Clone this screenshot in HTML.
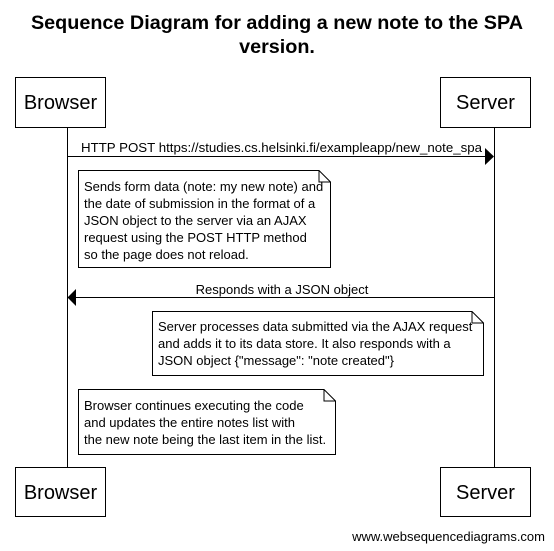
<!DOCTYPE html>
<html><head><meta charset="utf-8"><style>
html,body{margin:0;padding:0;background:#fff;}
svg{display:block;font-family:"Liberation Sans",Arial,sans-serif;}
</style></head><body>
<svg width="554" height="551" viewBox="0 0 554 551" xmlns="http://www.w3.org/2000/svg">
<rect width="554" height="551" fill="#fff"/>
<g font-weight="bold" font-size="19.8" text-anchor="middle" fill="#000">
<text x="277" y="29">Sequence Diagram for adding a new note to the SPA</text>
<text x="277" y="53">version.</text>
</g>
<g stroke="#000" stroke-width="1" fill="none">
<line x1="67.5" y1="127" x2="67.5" y2="467"/>
<line x1="494.5" y1="127" x2="494.5" y2="467"/>
<rect x="15.5" y="77.5" width="90" height="50" fill="#fff"/>
<rect x="440.5" y="77.5" width="90" height="50" fill="#fff"/>
<rect x="15.5" y="467.5" width="90" height="49" fill="#fff"/>
<rect x="440.5" y="467.5" width="90" height="49" fill="#fff"/>
<line x1="67.5" y1="156.5" x2="486" y2="156.5"/>
<line x1="75" y1="297.5" x2="494.5" y2="297.5"/>
<path d="M78.5 170.5 H319 L330.5 182 V267.5 H78.5 Z" fill="#fff"/>
<path d="M319 170.5 V182 H330.5"/>
<path d="M152.5 311.5 H472 L483.5 323 V375.5 H152.5 Z" fill="#fff"/>
<path d="M472 311.5 V323 H483.5"/>
<path d="M78.5 389.5 H324 L335.5 401 V454.5 H78.5 Z" fill="#fff"/>
<path d="M324 389.5 V401 H335.5"/>
</g>
<polygon points="485,148 494,156.5 485,165" fill="#000"/>
<polygon points="76,289 67.5,297.5 76,306" fill="#000"/>
<g font-size="20" text-anchor="middle" fill="#000">
<text x="60.5" y="109">Browser</text>
<text x="485.5" y="109">Server</text>
<text x="60.5" y="499">Browser</text>
<text x="485.5" y="499">Server</text>
</g>
<g font-size="13" fill="#000">
<text x="81" y="152" textLength="401" lengthAdjust="spacingAndGlyphs">HTTP POST https://studies.cs.helsinki.fi/exampleapp/new_note_spa</text>
<text x="282" y="294" text-anchor="middle">Responds with a JSON object</text>
<text x="84" y="191">Sends form data (note: my new note) and</text>
<text x="84" y="208">the date of submission in the format of a</text>
<text x="84" y="225">JSON object to the server via an AJAX</text>
<text x="84" y="242">request using the POST HTTP method</text>
<text x="84" y="259">so the page does not reload.</text>
<text x="158" y="331">Server processes data submitted via the AJAX request</text>
<text x="158" y="348">and adds it to its data store. It also responds with a</text>
<text x="158" y="365">JSON object {"message": "note created"}</text>
<text x="84" y="410">Browser continues executing the code</text>
<text x="84" y="427">and updates the entire notes list with</text>
<text x="84" y="444">the new note being the last item in the list.</text>
<text x="545" y="541" text-anchor="end">www.websequencediagrams.com</text>
</g>
</svg>
</body></html>
